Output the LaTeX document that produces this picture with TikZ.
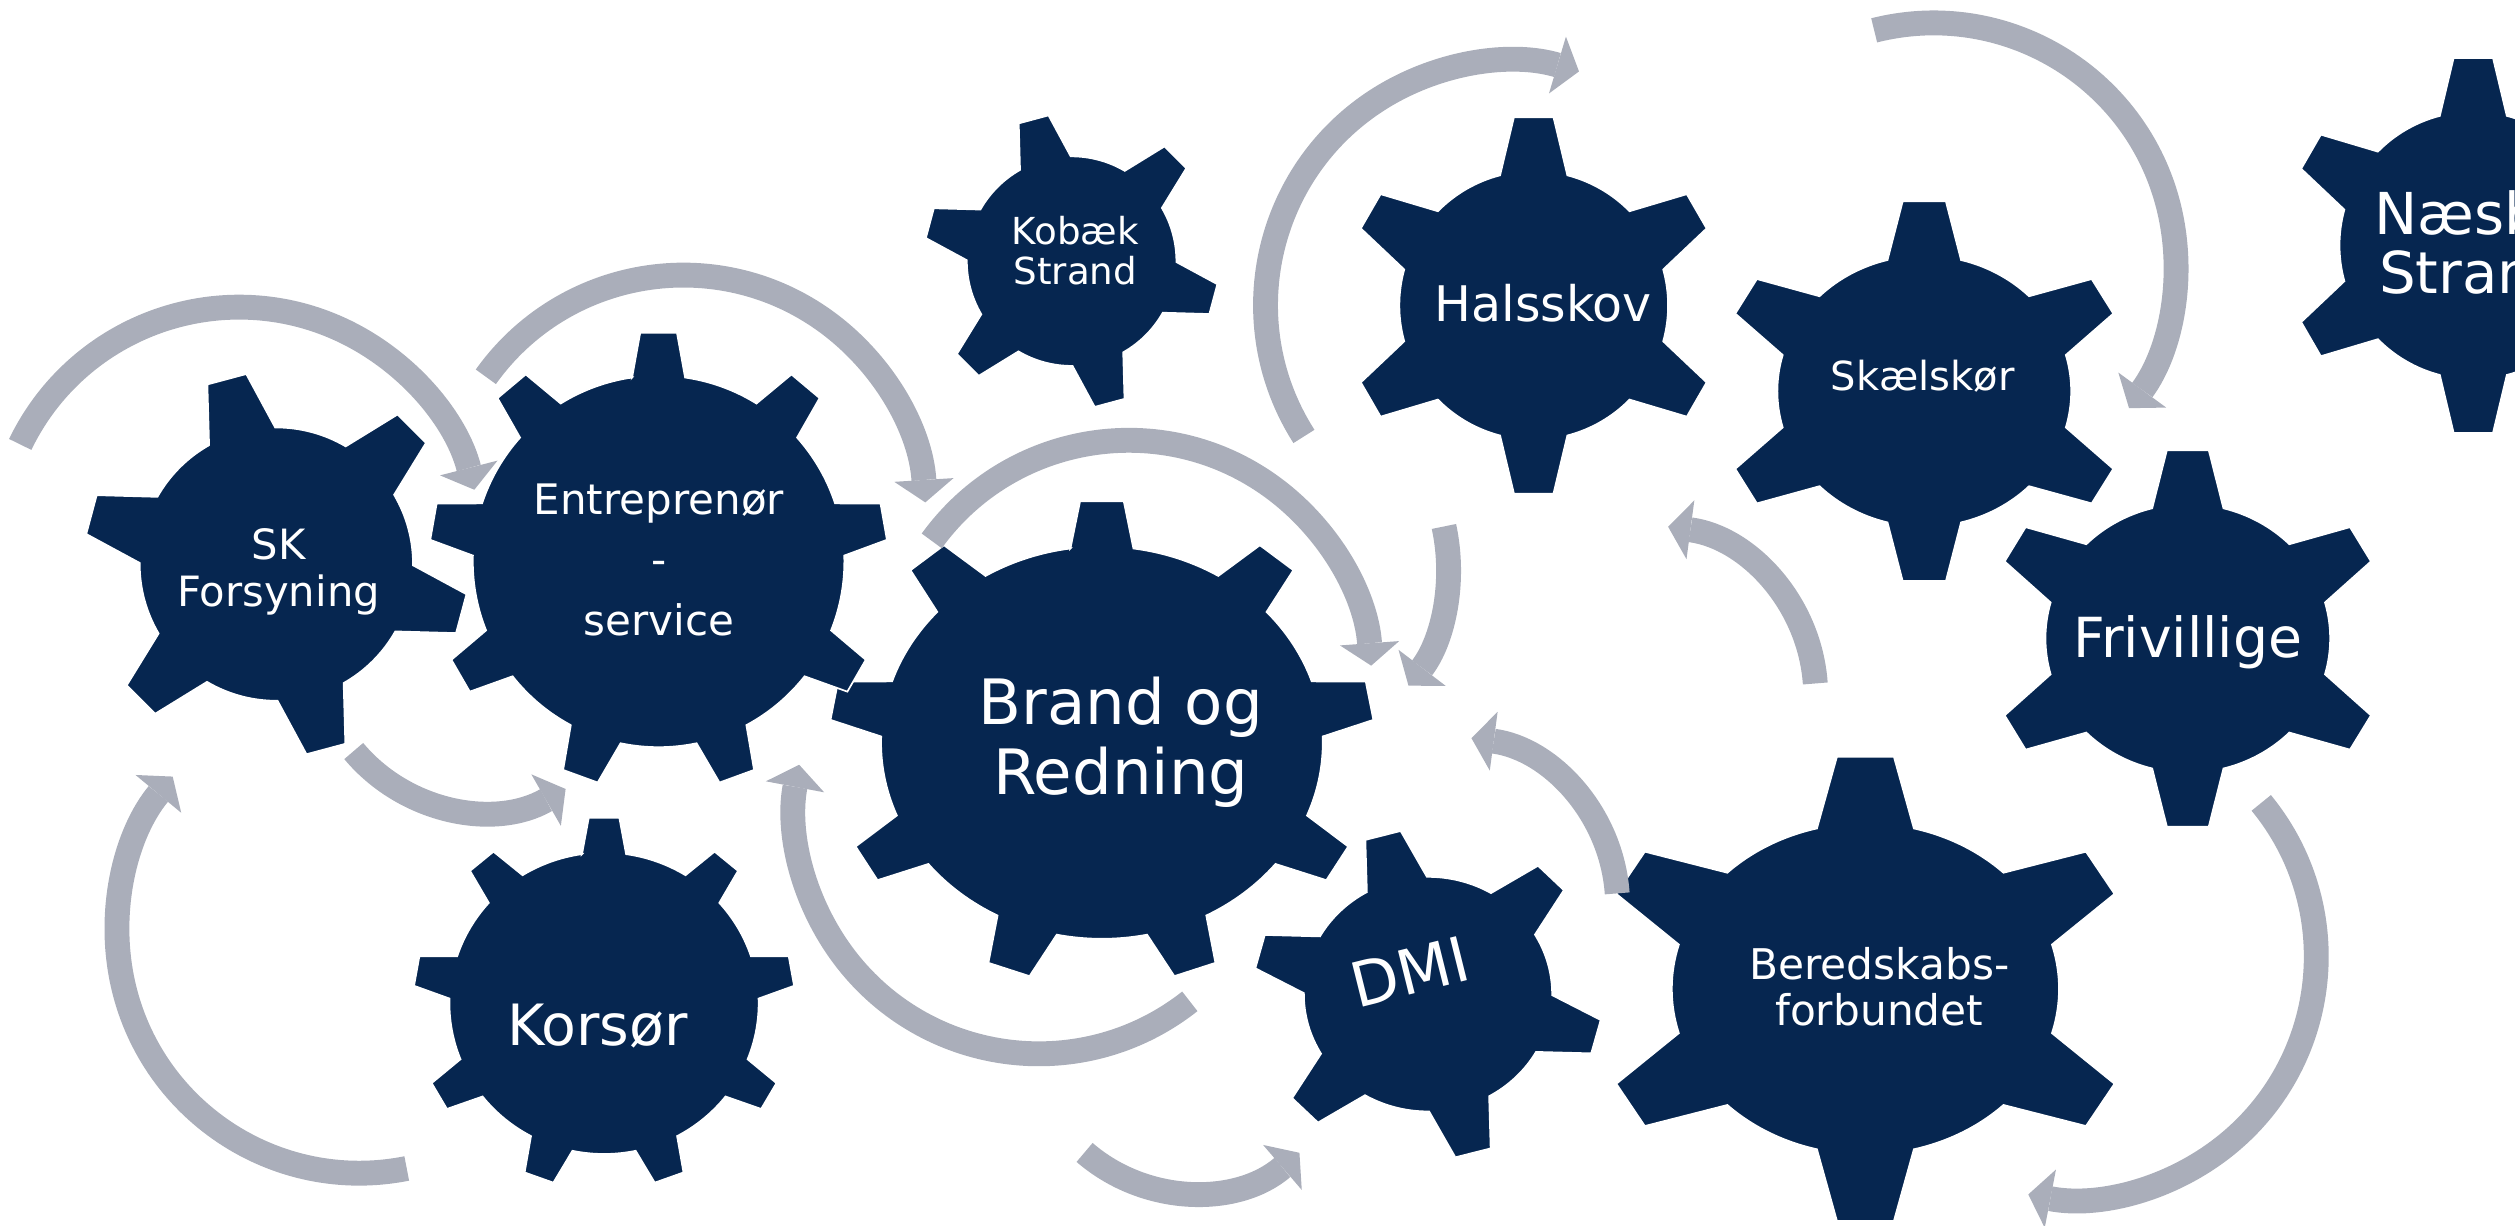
\documentclass[tikz,border=0pt]{standalone}
\usepackage{fontspec}
\setmainfont{DejaVu Sans}
\usepackage{tikz}
\usetikzlibrary{arrows.meta}
\usepackage{xcolor}

\definecolor{gearblue}{HTML}{062650}
\definecolor{arrowgray}{HTML}{AAAEBA}

% #1 centre, #2 teeth, #3 x radius, #4 y radius, #5 angle of first tooth
\newcommand{\gear}[5]{%
  \ifnum#2=6 \def\gin{0.71}\def\gbase{14.5}\def\gtip{6}%
  \else \def\gin{0.81}\def\gbase{8.2}\def\gtip{4.6}\fi
  \begin{scope}[shift={#1}, xscale=#3, yscale=#4]
    \path [gearfill] (#5-\gbase:\gin)
      foreach \k [evaluate=\k as \a using {#5+(\k-1)*360/#2},
                  evaluate=\k as \sa using {#5+(\k-1)*360/#2+\gbase},
                  evaluate=\k as \ea using {#5+\k*360/#2-\gbase}] in {1,...,#2}
        { -- (\a-\gtip:1) -- (\a+\gtip:1) -- (\a+\gbase:\gin)
          arc[start angle=\sa, end angle=\ea, radius=\gin] }
      -- cycle;
  \end{scope}}

\begin{document}
\begin{tikzpicture}[x=0.2mm, y=-0.2mm, every node/.style={text=white, inner sep=0pt, align=center}]
  \tikzstyle{gearfill} = [fill=gearblue, draw=white, line width=0.6pt]
  \tikzstyle{arrow} = [draw=arrowgray, line width=3.1mm, -{Triangle[width=7.4mm, length=2.8mm, line width=0pt]}]

  \useasboundingbox (0,0) rectangle (1568,764);
  \clip (0,0) rectangle (1568,764);

  \gear{(172.3,351.7)}{6}{120}{120}{-105}
  \gear{(668.1,162.8)}{6}{92}{92}{-105}
  \gear{(687,463)}{9}{170}{151}{-90}
  \gear{(410.6,350)}{9}{143}{143}{-90}
  \gear{(376.6,625.5)}{9}{119}{116}{-90}
  \gear{(890.3,619.8)}{6}{109}{103}{-105}
  \gear{(956.2,190.4)}{6}{118}{118}{-90}
  \gear{(1199.7,243.9)}{6}{129}{119}{-90}
  \gear{(1542,153)}{6}{117.5}{117.5}{-90}
  \gear{(1364,398)}{6}{125}{118}{-90}
  \gear{(1163,616.5)}{6}{170}{145.5}{-90}

  \node (sk) at (173.7,356.5) [font=\fontsize{14.8}{16.7}\selectfont] {SK\\Forsyning};
  \node (ent) at (410.8,349.1) [font=\fontsize{14.9}{21.3}\selectfont] {Entreprenør\\-\\service};
  \node (kobaek) at (670.4,156.3) [font=\fontsize{13.2}{14.1}\selectfont] {Kobæk\\Strand};
  \node (brand) at (698.8,462.7) [font=\fontsize{22.2}{24.75}\selectfont] {Brand og\\Redning};
  \node (korsor) at (372.5,639.4) [font=\fontsize{20.2}{24}\selectfont] {Korsør};
  \node (dmi) at (879,606) [rotate=14, font=\fontsize{22}{26}\selectfont] {DMI};
  \node (halsskov) at (962.1,188.8) [font=\fontsize{17.4}{21}\selectfont] {Halsskov};
  \node (skaelskor) at (1198.8,234.5) [font=\fontsize{14.2}{17}\selectfont] {Skælskør};
  \node (naesby) at (1543,151) [font=\fontsize{20.5}{21.05}\selectfont] {Næsby\\Strand};
  \node (frivillige) at (1364,400.7) [font=\fontsize{19.6}{23}\selectfont] {Frivillige};
  \node (beredskab) at (1171.6,615.1) [font=\fontsize{15}{16.4}\selectfont] {Beredskabs-\\forbundet};

  \draw [arrow] (149,343) ++(-154.2:151.5) arc[start angle=-154.2, end angle=-14.4, radius=151.5];
  \draw [arrow] (426,322.7) ++(-144.5:151.2) arc[start angle=-144.5, end angle=-3.6, radius=151.2];
  \draw [arrow] (703.7,426.1) ++(-144.1:151.6) arc[start angle=-144.1, end angle=-4.2, radius=151.6];
  \draw [arrow] (941,190.2) ++(147.4:152) arc[start angle=147.4, end angle=286.6, radius=152];
  \draw [arrow] (782,354) ++(-12.3:121) arc[start angle=-12.3, end angle=37.4, radius=121];
  \draw [arrow] (1205.5,165.3) ++(-104.2:151) arc[start angle=-104.2, end angle=36.2, radius=151];
  \draw [arrow] (1026,433.5) ++(-4:106) arc[start angle=-4, end angle=-82.4, radius=106];
  \draw [arrow] (903.5,564.3) ++(-4:105) arc[start angle=-4, end angle=-82.4, radius=105];
  \draw [arrow] (1293.1,596.4) ++(-39.4:151) arc[start angle=-39.4, end angle=100.9, radius=151];
  \draw [arrow] (743.3,641) ++(130.9:102.5) arc[start angle=130.9, end angle=49.3, radius=102.5];
  \draw [arrow] (647.6,505) ++(51.7:152) arc[start angle=51.7, end angle=190.7, radius=152];
  \draw [arrow] (224,580.4) ++(78.7:151) arc[start angle=78.7, end angle=219.6, radius=151];
  \draw [arrow] (300.7,401.2) ++(140.1:104.5) arc[start angle=140.1, end angle=60.2, radius=104.5];
\end{tikzpicture}
\end{document}
